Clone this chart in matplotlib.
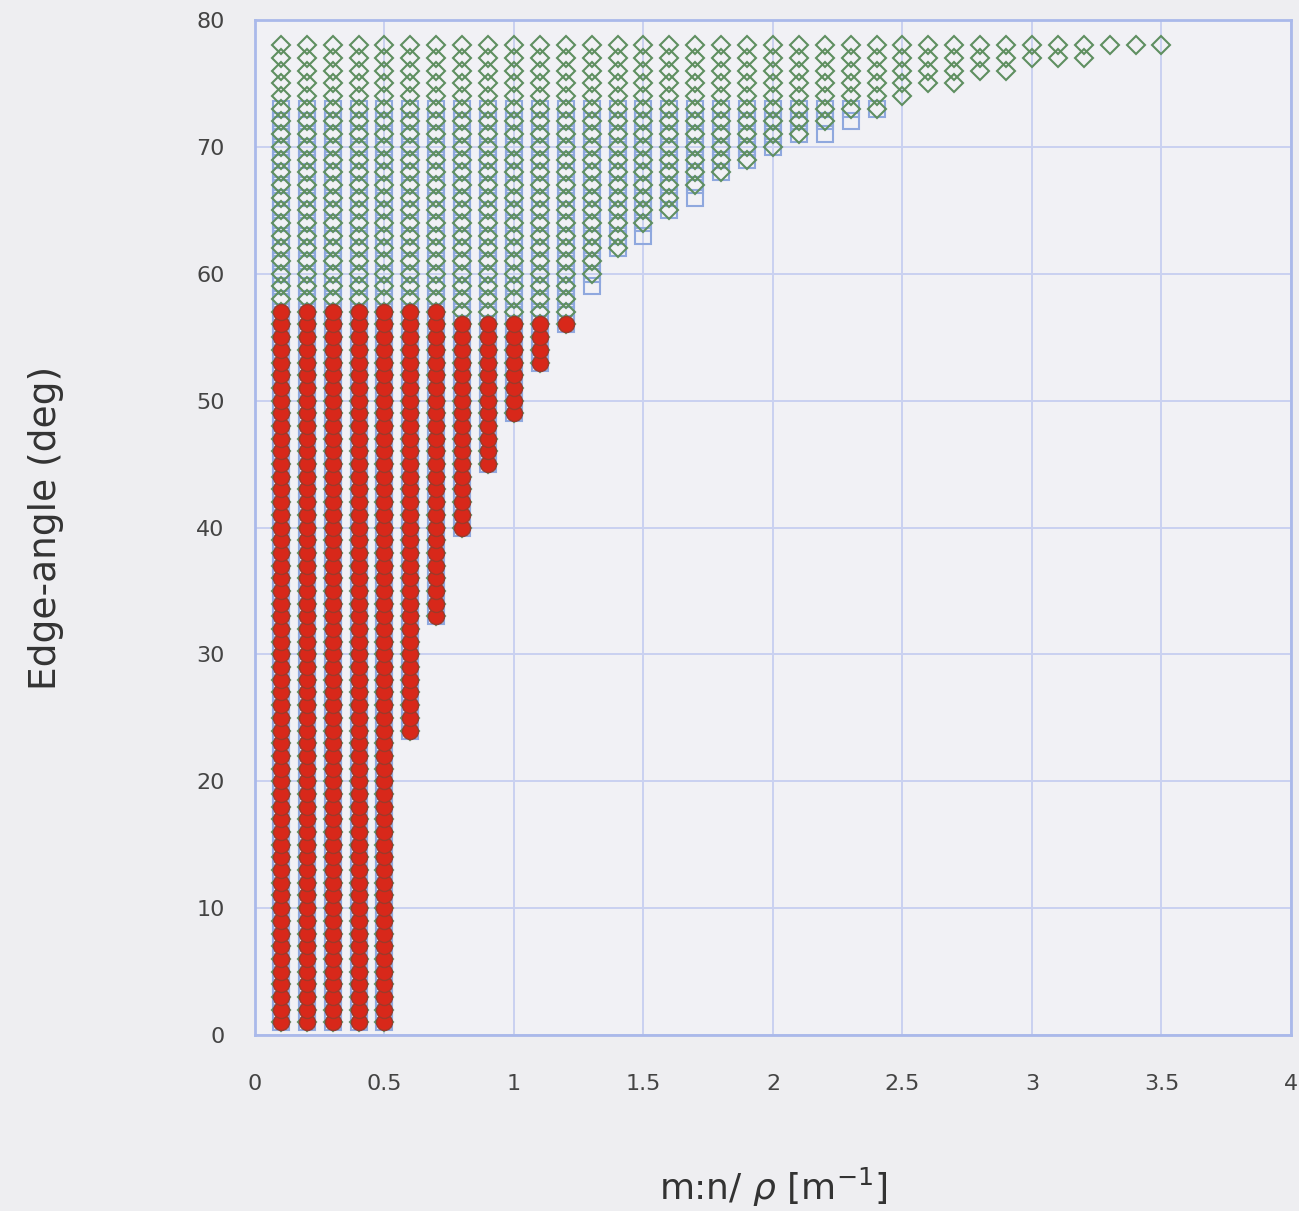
import numpy as np
import matplotlib.pyplot as plt

# columns m:n/rho
x_cols = [0.1, 0.2, 0.3, 0.4, 0.5, 0.6, 0.7, 0.8, 0.9, 1.0, 1.1, 1.2,
          1.3, 1.4, 1.5, 1.6, 1.7, 1.8, 1.9, 2.0, 2.1, 2.2, 2.3, 2.4,
          2.5, 2.6, 2.7, 2.8, 2.9, 3.0, 3.1, 3.2, 3.3, 3.4, 3.5]

# green diamonds: lowest / highest angle in each column
dia_lo = [1, 1, 1, 1, 1, 24, 33, 40, 45, 49, 53, 56,
          60, 62, 64, 65, 67, 68, 69, 70, 71, 72, 73, 73,
          74, 75, 75, 76, 76, 77, 77, 77, 78, 78, 78]
dia_hi = [78] * 35

# blue squares (columns 0.1 .. 2.4)
sq_lo = [1, 1, 1, 1, 1, 24, 33, 40, 45, 49, 53, 56,
         59, 62, 63, 65, 66, 68, 69, 70, 71, 71, 72, 73]
sq_hi = [73] * 24

# red circles (columns 0.1 .. 1.2)
red_lo = [1, 1, 1, 1, 1, 24, 33, 40, 45, 49, 53, 56]
red_hi = [57, 57, 57, 57, 57, 57, 57, 56, 56, 56, 56, 56]


def expand(xs, lo, hi):
    px, py = [], []
    for x, a, b in zip(xs, lo, hi):
        for ang in range(a, b + 1):
            px.append(x)
            py.append(ang)
    return px, py


bg = '#eeeef1'
fig = plt.figure(figsize=(12.99, 12.11), dpi=100, facecolor=bg)
ax = fig.add_axes([0.1963, 0.1453, 0.7975, 0.8382])
ax.set_facecolor('#f1f1f5')

sx, sy = expand(x_cols, sq_lo, sq_hi)
ax.plot(sx, sy, 's', ms=12, mfc='none', mec='#8fa8de', mew=1.5, zorder=3)
dx, dy = expand(x_cols, dia_lo, dia_hi)
ax.plot(dx, dy, 'D', ms=9.5, mfc='none', mec='#5f8f60', mew=1.5, zorder=4)
rx, ry = expand(x_cols, red_lo, red_hi)
ax.plot(rx, ry, 'o', ms=11.5, mfc='#d8281a', mec='#9c3a2a', mew=1.0, zorder=5)

ax.set_xlim(0, 4)
ax.set_ylim(0, 80)
ax.set_xticks(np.arange(0, 4.01, 0.5))
ax.set_xticklabels(['0', '0.5', '1', '1.5', '2', '2.5', '3', '3.5', '4'])
ax.set_yticks(np.arange(0, 81, 10))
ax.grid(True, color='#c9d1f0', lw=1.4)
ax.set_axisbelow(True)
for s in ax.spines.values():
    s.set_color('#aab9ea')
    s.set_linewidth(2)
ax.tick_params(length=0, labelsize=16, labelcolor='#444444')
ax.tick_params(axis='x', pad=28)
ax.tick_params(axis='y', pad=22)

ax.set_ylabel('Edge-angle (deg)', fontsize=27, color='#333333', labelpad=95)
ax.set_xlabel(r'm:n/ $\rho$ [m$^{\mathregular{-1}}$]', fontsize=26,
              color='#333333', labelpad=52)

plt.savefig('out.png', dpi=100, facecolor=bg)
